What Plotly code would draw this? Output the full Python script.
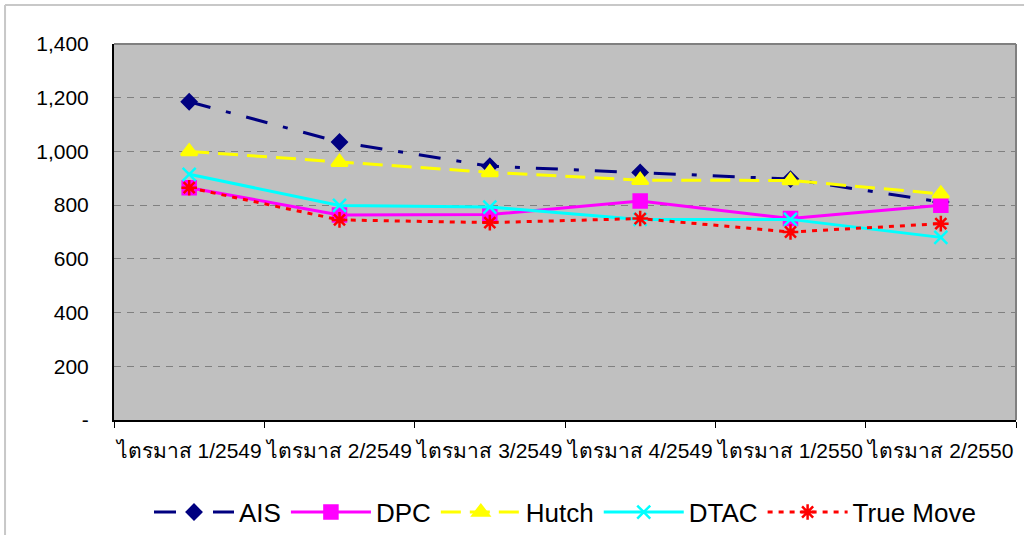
import plotly.graph_objects as go

categories = ["ไตรมาส 1/2549", "ไตรมาส 2/2549", "ไตรมาส 3/2549",
              "ไตรมาส 4/2549", "ไตรมาส 1/2550", "ไตรมาส 2/2550"]
ais = [1185, 1035, 945, 922, 897, 812]
dpc = [865, 763, 765, 815, 750, 800]
hutch = [1000, 960, 922, 893, 892, 842]
dtac = [915, 799, 793, 747, 747, 680]
truemove = [865, 745, 735, 750, 700, 731]

y_ticks = [0, 200, 400, 600, 800, 1000, 1200, 1400]
y_ticktext = ["-", "200", "400", "600", "800", "1,000", "1,200", "1,400"]

FONT = "Liberation Sans, Arial, sans-serif"

series = [
    ("AIS", ais, "#000080", "22px,16px,5px,16px", "diamond", 11),
    ("DPC", dpc, "#FF00FF", "solid", "square", 13),
    ("Hutch", hutch, "#FFFF00", "20px,9px", "triangle-up", 14),
    ("DTAC", dtac, "#00FFFF", "solid", "x-thin-open", 13),
    ("True Move", truemove, "#FF0000", "5px,6px", "asterisk-open", 13),
]

fig = go.Figure()
for name, vals, color, dash, sym, size in series:
    fig.add_trace(go.Scatter(
        x=categories, y=vals, name=name, mode="lines+markers",
        line=dict(color=color, width=3, dash=dash),
        marker=dict(symbol=sym, size=size, color=color,
                    line=dict(color=color, width=2.5)),
    ))

fig.update_layout(
    width=1025, height=535,
    margin=dict(l=114, r=9, t=44, b=115, autoexpand=False),
    paper_bgcolor="white",
    plot_bgcolor="#C0C0C0",
    font=dict(family=FONT, size=21, color="black"),
    showlegend=True,
    legend=dict(orientation="h", x=0.5, xanchor="center", y=-0.245,
                yanchor="middle", font=dict(size=26, family=FONT),
                itemwidth=80, bgcolor="rgba(0,0,0,0)"),
    xaxis=dict(
        type="category", range=[-0.5, 5.5], automargin=False,
        showline=True, linecolor="black", linewidth=2,
        mirror=False, ticks="outside", tickson="boundaries",
        ticklen=6, tickcolor="black", tickwidth=1, showgrid=False,
        tickangle=0,
        tickfont=dict(size=21, family=FONT), ticklabelstandoff=11,
    ),
    yaxis=dict(
        range=[0, 1400], tickvals=y_ticks, ticktext=y_ticktext,
        automargin=False,
        showline=True, linecolor="black", linewidth=2,
        ticks="", showgrid=True, gridcolor="#808080", gridwidth=1,
        griddash="7px,6px", zeroline=False,
        tickfont=dict(size=21, family=FONT), ticklabelstandoff=19,
    ),
    shapes=[
        dict(type="line", xref="paper", yref="paper", x0=0, x1=1, y0=1, y1=1,
             line=dict(color="#808080", width=2)),
        dict(type="line", xref="paper", yref="paper", x0=1, x1=1, y0=0, y1=1,
             line=dict(color="#808080", width=2)),
        dict(type="line", xref="paper", yref="paper", x0=-0.1208, x1=1.0089,
             y0=1.1037, y1=1.1037, line=dict(color="#C8C8C8", width=2)),
        dict(type="line", xref="paper", yref="paper", x0=-0.1208, x1=-0.1208,
             y0=-0.31, y1=1.1037, line=dict(color="#C8C8C8", width=2)),
    ],
)

fig.write_html("out.html", config={"displayModeBar": False},
               post_script="document.body.style.margin='0';document.body.style.overflow='hidden';")
